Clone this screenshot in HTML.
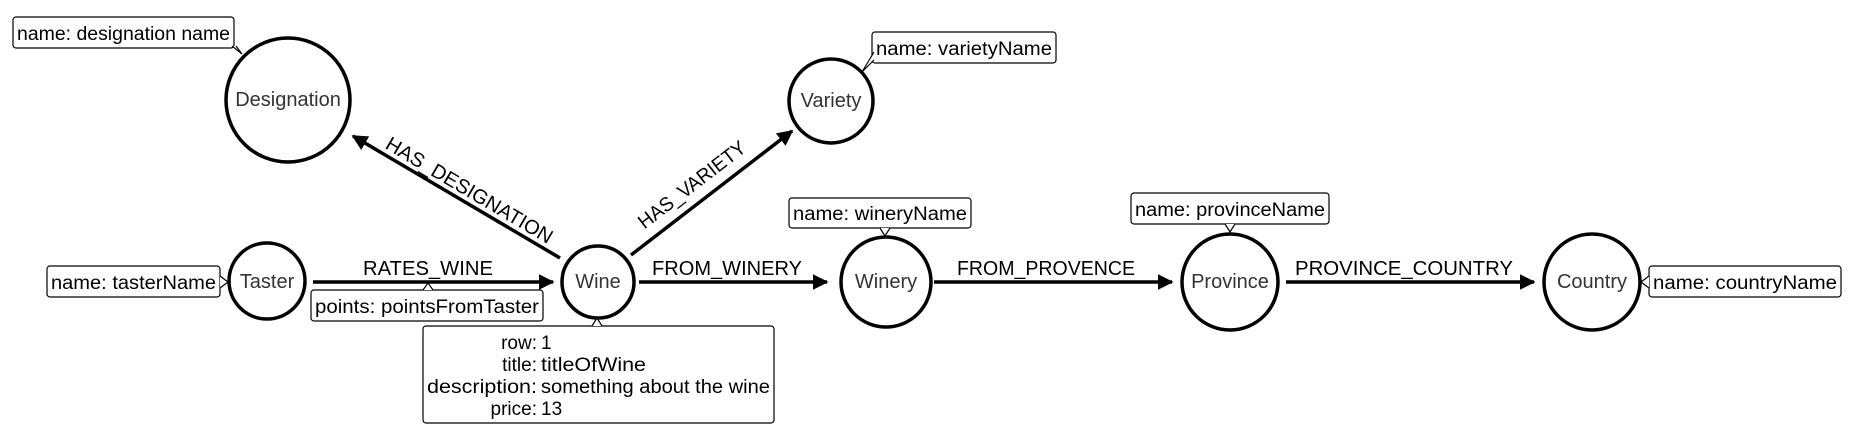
<!DOCTYPE html>
<html><head><meta charset="utf-8"><style>
html,body{margin:0;padding:0;background:#fff;}
svg{display:block;font-family:"Liberation Sans",sans-serif;}
.n{fill:#fff;stroke:#000;stroke-width:3.5;}
.nl{font-size:20px;fill:#333;text-anchor:middle;dominant-baseline:central;}
.e{stroke:#000;stroke-width:3.5;fill:none;}
.el{font-size:20px;fill:#000;text-anchor:middle;}
.b{fill:#fff;stroke:#000;stroke-width:1.2;}
.bt{font-size:19px;fill:#000;}
</style></head><body>
<svg width="1850" height="444" viewBox="0 0 1850 444" xmlns="http://www.w3.org/2000/svg">
<defs><marker id="a" viewBox="0 0 10 10" refX="9" refY="5" markerWidth="4.5" markerHeight="4.5" orient="auto"><path d="M0,0L10,5L0,10z" fill="#000"/></marker></defs>
<line class="e" x1="313" y1="282" x2="553" y2="282" marker-end="url(#a)"/>
<line class="e" x1="639" y1="282" x2="827" y2="282" marker-end="url(#a)"/>
<line class="e" x1="934" y1="282" x2="1172" y2="282" marker-end="url(#a)"/>
<line class="e" x1="1286" y1="282" x2="1534" y2="282" marker-end="url(#a)"/>
<line class="e" x1="560" y1="258" x2="353" y2="136" marker-end="url(#a)"/>
<line class="e" x1="631" y1="255" x2="792" y2="131" marker-end="url(#a)"/>
<text class="el" x="428" y="275" textLength="130" lengthAdjust="spacingAndGlyphs">RATES_WINE</text>
<text class="el" x="727" y="275" textLength="150" lengthAdjust="spacingAndGlyphs">FROM_WINERY</text>
<text class="el" x="1046" y="275" textLength="178" lengthAdjust="spacingAndGlyphs">FROM_PROVENCE</text>
<text class="el" x="1404" y="275" textLength="218" lengthAdjust="spacingAndGlyphs">PROVINCE_COUNTRY</text>
<text class="el" transform="translate(466,196) rotate(30.5)" textLength="190" lengthAdjust="spacingAndGlyphs">HAS_DESIGNATION</text>
<text class="el" transform="translate(696,190) rotate(-37.6)" textLength="130" lengthAdjust="spacingAndGlyphs">HAS_VARIETY</text>
<circle class="n" cx="288" cy="100" r="62"/><text class="nl" x="288" y="100">Designation</text>
<circle class="n" cx="831" cy="101" r="42"/><text class="nl" x="831" y="101">Variety</text>
<circle class="n" cx="267" cy="281" r="38"/><text class="nl" x="267" y="282">Taster</text>
<circle class="n" cx="598" cy="282" r="36"/><text class="nl" x="598" y="282">Wine</text>
<circle class="n" cx="886" cy="282" r="45"/><text class="nl" x="886" y="282">Winery</text>
<circle class="n" cx="1230" cy="282" r="48"/><text class="nl" x="1230" y="282">Province</text>
<circle class="n" cx="1592" cy="282" r="48"/><text class="nl" x="1592" y="282">Country</text>
<rect class="b" x="13" y="17" width="221" height="31" rx="3"/><path d="M232,46 L242,54 L236,46" fill="#fff" stroke="#000" stroke-width="1.2"/>
<text class="bt" x="17" y="40" textLength="213" lengthAdjust="spacingAndGlyphs">name: designation name</text>
<rect class="b" x="872" y="32" width="184" height="31" rx="3"/><path d="M874,60 L862,72 L874,52" fill="#fff" stroke="#000" stroke-width="1.2"/>
<text class="bt" x="876" y="55" textLength="176" lengthAdjust="spacingAndGlyphs">name: varietyName</text>
<rect class="b" x="47" y="266" width="173" height="31" rx="3"/><path d="M220,276 L228,282 L220,288" fill="#fff" stroke="#000" stroke-width="1.2"/>
<text class="bt" x="51" y="289" textLength="165" lengthAdjust="spacingAndGlyphs">name: tasterName</text>
<rect class="b" x="311" y="290" width="232" height="31" rx="3"/><path d="M423,290 L428,283 L433,290" fill="#fff" stroke="#000" stroke-width="1.2"/>
<text class="bt" x="315" y="313" textLength="224" lengthAdjust="spacingAndGlyphs">points: pointsFromTaster</text>
<rect class="b" x="423" y="326" width="351" height="97" rx="3"/><path d="M592,326 L597,318 L602,326" fill="#fff" stroke="#000" stroke-width="1.2"/>
<g class="bt" text-anchor="end"><text x="537" y="349">row:</text><text x="537" y="371">title:</text><text x="537" y="393" textLength="110" lengthAdjust="spacingAndGlyphs">description:</text><text x="537" y="415">price:</text></g>
<g class="bt"><text x="541" y="349">1</text><text x="541" y="371" textLength="105" lengthAdjust="spacingAndGlyphs">titleOfWine</text><text x="541" y="393" textLength="229" lengthAdjust="spacingAndGlyphs">something about the wine</text><text x="541" y="415">13</text></g>
<rect class="b" x="789" y="198" width="182" height="30" rx="3"/><path d="M880,228 L885,236 L890,228" fill="#fff" stroke="#000" stroke-width="1.2"/>
<text class="bt" x="793" y="220" textLength="174" lengthAdjust="spacingAndGlyphs">name: wineryName</text>
<rect class="b" x="1131" y="193" width="198" height="31" rx="3"/><path d="M1225,224 L1230,232 L1235,224" fill="#fff" stroke="#000" stroke-width="1.2"/>
<text class="bt" x="1135" y="216" textLength="190" lengthAdjust="spacingAndGlyphs">name: provinceName</text>
<rect class="b" x="1649" y="266" width="192" height="31" rx="3"/><path d="M1649,276 L1641,282 L1649,288" fill="#fff" stroke="#000" stroke-width="1.2"/>
<text class="bt" x="1653" y="289" textLength="184" lengthAdjust="spacingAndGlyphs">name: countryName</text>
</svg>
</body></html>
